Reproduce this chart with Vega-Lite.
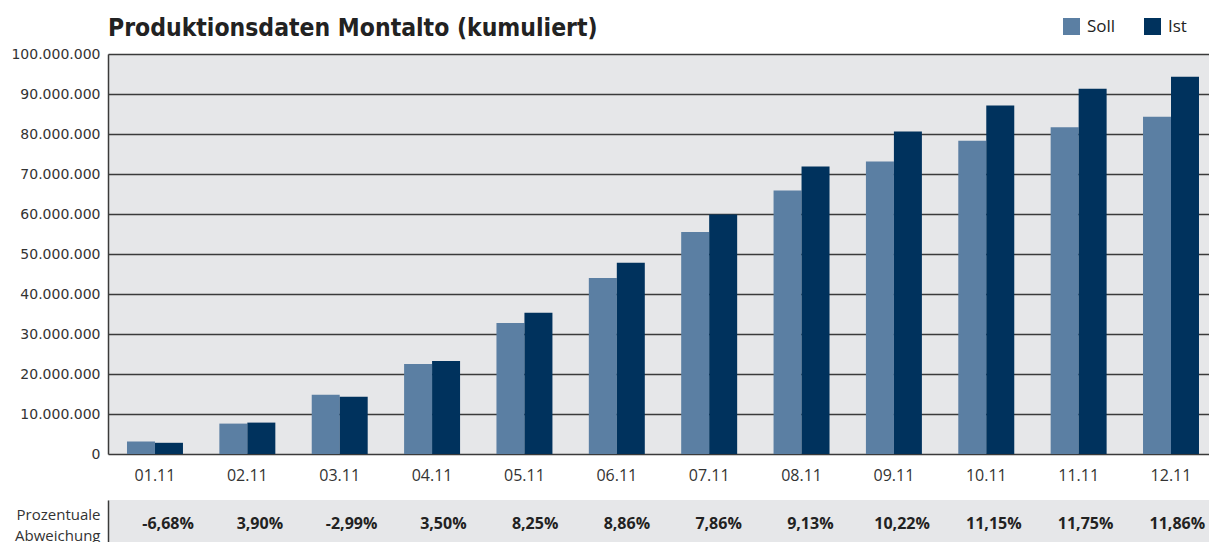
{
  "$schema": "https://vega.github.io/schema/vega-lite/v6.json",
  "background": "white",
  "padding": {"left": 10, "right": 0, "top": 15, "bottom": 0},
  "spacing": 17,
  "datasets": {
    "werte": [
      {"monat": "01.11", "reihe": "Soll", "wert": 3100000},
      {"monat": "01.11", "reihe": "Ist", "wert": 2800000},
      {"monat": "02.11", "reihe": "Soll", "wert": 7600000},
      {"monat": "02.11", "reihe": "Ist", "wert": 7850000},
      {"monat": "03.11", "reihe": "Soll", "wert": 14800000},
      {"monat": "03.11", "reihe": "Ist", "wert": 14300000},
      {"monat": "04.11", "reihe": "Soll", "wert": 22500000},
      {"monat": "04.11", "reihe": "Ist", "wert": 23250000},
      {"monat": "05.11", "reihe": "Soll", "wert": 32750000},
      {"monat": "05.11", "reihe": "Ist", "wert": 35300000},
      {"monat": "06.11", "reihe": "Soll", "wert": 44000000},
      {"monat": "06.11", "reihe": "Ist", "wert": 47800000},
      {"monat": "07.11", "reihe": "Soll", "wert": 55500000},
      {"monat": "07.11", "reihe": "Ist", "wert": 59850000},
      {"monat": "08.11", "reihe": "Soll", "wert": 65900000},
      {"monat": "08.11", "reihe": "Ist", "wert": 71900000},
      {"monat": "09.11", "reihe": "Soll", "wert": 73100000},
      {"monat": "09.11", "reihe": "Ist", "wert": 80600000},
      {"monat": "10.11", "reihe": "Soll", "wert": 78300000},
      {"monat": "10.11", "reihe": "Ist", "wert": 87100000},
      {"monat": "11.11", "reihe": "Soll", "wert": 81700000},
      {"monat": "11.11", "reihe": "Ist", "wert": 91300000},
      {"monat": "12.11", "reihe": "Soll", "wert": 84300000},
      {"monat": "12.11", "reihe": "Ist", "wert": 94300000}
    ],
    "abweichung": [
      {"monat": "01.11", "zeile": "Prozentuale Abweichung", "abw": "-6,68%"},
      {"monat": "02.11", "zeile": "Prozentuale Abweichung", "abw": "3,90%"},
      {"monat": "03.11", "zeile": "Prozentuale Abweichung", "abw": "-2,99%"},
      {"monat": "04.11", "zeile": "Prozentuale Abweichung", "abw": "3,50%"},
      {"monat": "05.11", "zeile": "Prozentuale Abweichung", "abw": "8,25%"},
      {"monat": "06.11", "zeile": "Prozentuale Abweichung", "abw": "8,86%"},
      {"monat": "07.11", "zeile": "Prozentuale Abweichung", "abw": "7,86%"},
      {"monat": "08.11", "zeile": "Prozentuale Abweichung", "abw": "9,13%"},
      {"monat": "09.11", "zeile": "Prozentuale Abweichung", "abw": "10,22%"},
      {"monat": "10.11", "zeile": "Prozentuale Abweichung", "abw": "11,15%"},
      {"monat": "11.11", "zeile": "Prozentuale Abweichung", "abw": "11,75%"},
      {"monat": "12.11", "zeile": "Prozentuale Abweichung", "abw": "11,86%"}
    ]
  },
  "config": {
    "view": {"stroke": null},
    "axis": {"labelColor": "#333333", "titleColor": "#333333"}
  },
  "vconcat": [
    {
      "width": 1101,
      "height": 400,
      "data": {"name": "werte"},
      "title": {
        "text": "Produktionsdaten Montalto (kumuliert)",
        "anchor": "start",
        "frame": "group",
        "font": "DejaVu Sans Condensed",
        "fontSize": 24.5,
        "fontWeight": "bold",
        "color": "#222222",
        "offset": 6
      },
      "view": {"fill": "#e6e7e9"},
      "mark": {"type": "bar"},
      "encoding": {
        "x": {
          "field": "monat",
          "type": "nominal",
          "sort": null,
          "scale": {"paddingInner": 0.394, "paddingOuter": 0.157, "align": 0.655},
          "axis": {
            "title": null,
            "labelAngle": 0,
            "domain": false,
            "ticks": false,
            "labelPadding": 13,
            "labelFont": "Open Sans",
            "labelFontSize": 16,
            "labelColor": "#333333"
          }
        },
        "xOffset": {
          "field": "reihe",
          "type": "nominal",
          "sort": ["Soll", "Ist"],
          "scale": {"paddingInner": 0, "paddingOuter": 0}
        },
        "y": {
          "field": "wert",
          "type": "quantitative",
          "scale": {"domain": [0, 100000000], "nice": false},
          "axis": {
            "title": null,
            "values": [0, 10000000, 20000000, 30000000, 40000000, 50000000, 60000000, 70000000, 80000000, 90000000, 100000000],
            "labelExpr": "replace(format(datum.value, ','), regexp(',', 'g'), '.')",
            "grid": true,
            "gridColor": "#3a3a3a",
            "gridWidth": 1.5,
            "domain": true,
            "domainColor": "#3a3a3a",
            "domainWidth": 1.5,
            "ticks": false,
            "labelPadding": 8,
            "labelFont": "DejaVu Sans",
            "labelFontSize": 14,
            "labelColor": "#333333"
          }
        },
        "color": {
          "field": "reihe",
          "type": "nominal",
          "scale": {"domain": ["Soll", "Ist"], "range": ["#5b7fa3", "#00325d"]},
          "legend": {
            "title": null,
            "orient": "none",
            "direction": "horizontal",
            "legendX": 955,
            "legendY": -36,
            "symbolType": "square",
            "symbolSize": 289,
            "symbolStrokeWidth": 0,
            "symbolOpacity": 1,
            "labelFont": "Open Sans",
            "labelFontSize": 17,
            "labelColor": "#222222",
            "labelOffset": 7,
            "columnPadding": 28,
            "padding": 0
          }
        }
      }
    },
    {
      "width": 1101,
      "height": 42,
      "data": {"name": "abweichung"},
      "view": {"fill": "#e6e7e9"},
      "mark": {"type": "text", "font": "Open Sans", "fontSize": 16, "fontWeight": "bold", "color": "#222222", "dy": 3},
      "encoding": {
        "x": {
          "field": "monat",
          "type": "nominal",
          "sort": null,
          "scale": {"paddingInner": 0.394, "paddingOuter": 0.157, "align": 0.655},
          "axis": null
        },
        "y": {
          "field": "zeile",
          "type": "nominal",
          "axis": {
            "title": null,
            "labelExpr": "split(datum.label, ' ')",
            "labelFont": "Open Sans",
            "labelFontSize": 15,
            "labelLineHeight": 21,
            "labelOffset": -7,
            "labelColor": "#333333",
            "labelPadding": 8,
            "ticks": false,
            "domain": true,
            "domainColor": "#3a3a3a",
            "domainWidth": 1.5
          }
        },
        "text": {"field": "abw", "type": "nominal"}
      }
    }
  ]
}
